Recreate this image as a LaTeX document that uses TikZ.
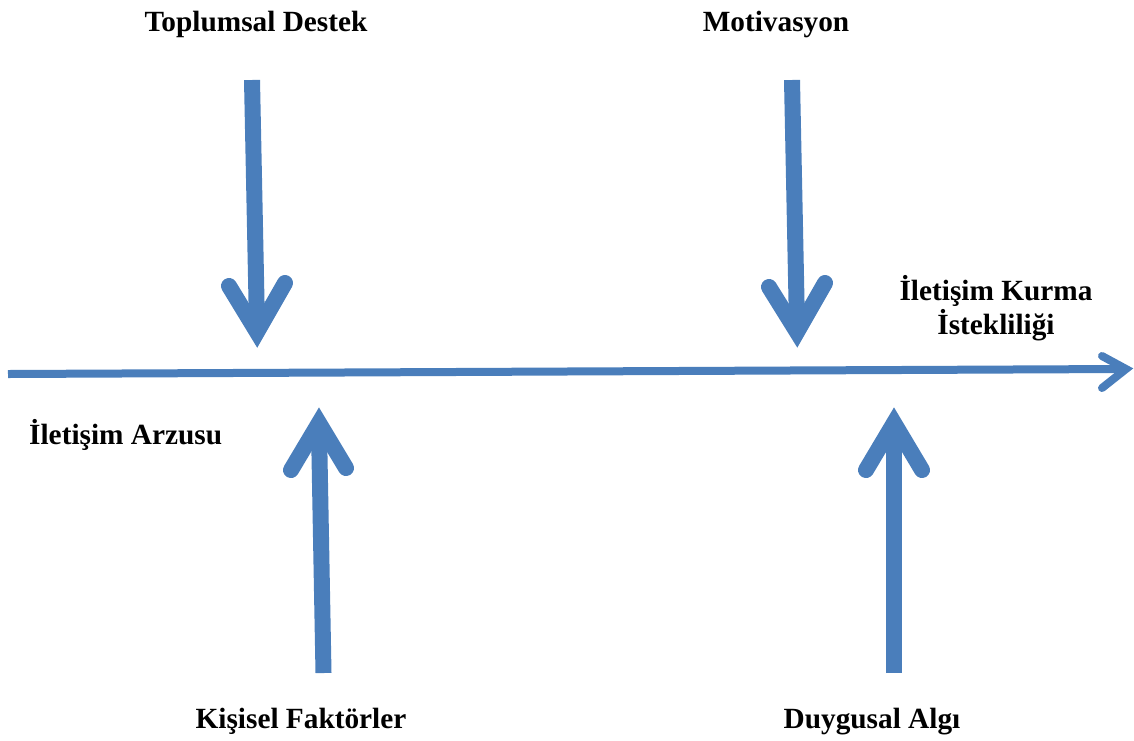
\documentclass[tikz,border=0pt]{standalone}
\usepackage{fontspec}
\setmainfont{Liberation Serif}
\usetikzlibrary{calc}
\definecolor{arrowblue}{RGB}{74,126,187}
\tikzset{
  shaft/.style={draw=arrowblue, line width=16pt, line cap=butt},
  barb/.style={draw=arrowblue, line width=16pt, line cap=round, line join=miter},
  axisline/.style={draw=arrowblue, line width=8pt, line cap=butt},
  axisbarb/.style={draw=arrowblue, line width=8pt, line cap=round, line join=miter},
  lbl/.style={font=\bfseries\fontsize{29.3}{34}\selectfont, inner sep=0pt, anchor=base, align=center},
}
\begin{document}
\begin{tikzpicture}[x=1pt, y=-1pt]
\useasboundingbox (0,0) rectangle (1134,740);

% main axis
\coordinate (axL) at (8,374);
\coordinate (axR) at (1126,369);
\draw[axisline] (axL) -- ($(axR)+(-4,0)$);
\draw[axisbarb] ($(axR)+(-24,-13)$) -- (axR) -- ($(axR)+(-24,19)$);

% downward influences
\coordinate (d1s) at (252,80);
\coordinate (d1t) at (257,332);
\draw[shaft] (d1s) -- ($(d1t)+(0,-6)$);
\draw[barb] (229,286) -- (d1t) -- (285,283);

\coordinate (d2s) at (792,80);
\coordinate (d2t) at (797,332);
\draw[shaft] (d2s) -- ($(d2t)+(0,-6)$);
\draw[barb] (769,287) -- (d2t) -- (825,283);

% upward influences
\coordinate (u1s) at (323.5,673);
\coordinate (u1t) at (319,423);
\draw[shaft] (u1s) -- ($(u1t)+(0,6)$);
\draw[barb] (291,470) -- (u1t) -- (346,468);

\coordinate (u2s) at (894,673);
\coordinate (u2t) at (894,423);
\draw[shaft] (u2s) -- ($(u2t)+(0,6)$);
\draw[barb] (866,470) -- (u2t) -- (922,470);

% labels
\node[lbl] (tdest) at (256,31) {Toplumsal Destek};
\node[lbl] (motiv) at (776,31) {Motivasyon};
\node[lbl] (kurma) at (996,334) {İletişim Kurma\\İstekliliği};
\node[lbl, anchor=base west] (arzu) at (29,444) {İletişim Arzusu};
\node[lbl] (kisi) at (301,728) {Kişisel Faktörler};
\node[lbl] (duyg) at (872,728) {Duygusal Algı};
\end{tikzpicture}
\end{document}
